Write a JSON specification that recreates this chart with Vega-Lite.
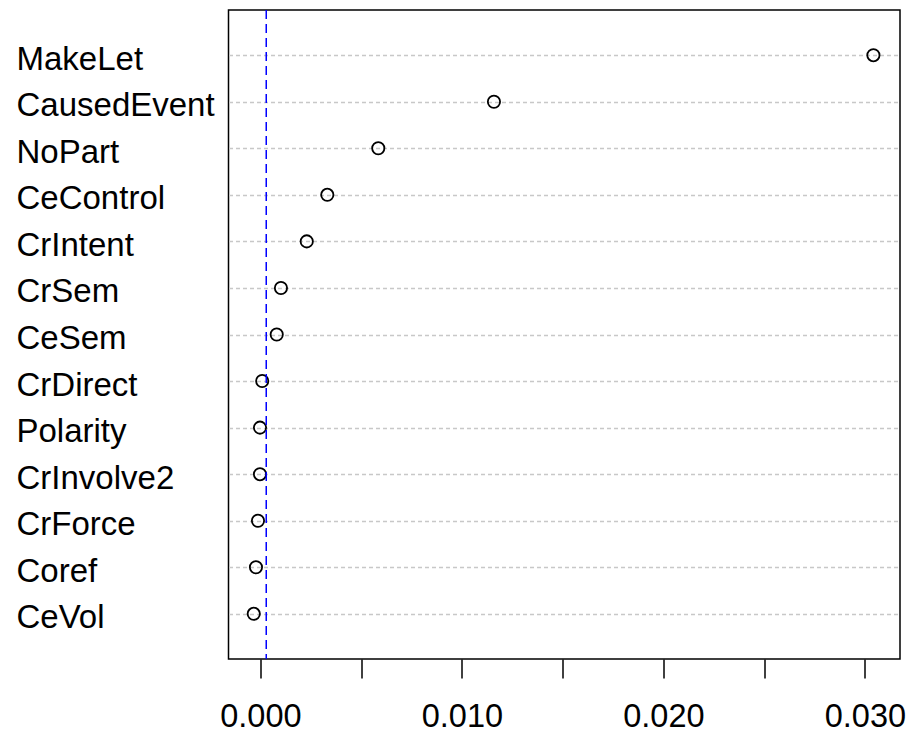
{
  "$schema": "https://vega.github.io/schema/vega-lite/v6.json",
  "autosize": "none",
  "width": 671.5,
  "height": 649,
  "padding": {"left": 228.5, "top": 10, "right": 7, "bottom": 79},
  "background": "white",
  "config": {
    "view": {"stroke": "black", "strokeWidth": 1.5},
    "font": "Liberation Sans"
  },
  "layer": [
    {
      "data": {
        "values": [
          {"variable": "MakeLet", "importance": 0.03042},
          {"variable": "CausedEvent", "importance": 0.01159},
          {"variable": "NoPart", "importance": 0.00585},
          {"variable": "CeControl", "importance": 0.00332},
          {"variable": "CrIntent", "importance": 0.00230},
          {"variable": "CrSem", "importance": 0.00102},
          {"variable": "CeSem", "importance": 0.00081},
          {"variable": "CrDirect", "importance": 0.00009},
          {"variable": "Polarity", "importance": -0.00002},
          {"variable": "CrInvolve2", "importance": -0.00002},
          {"variable": "CrForce", "importance": -0.00012},
          {"variable": "Coref", "importance": -0.00022},
          {"variable": "CeVol", "importance": -0.00033}
        ]
      },
      "mark": {"type": "point", "shape": "circle", "filled": false, "stroke": "black", "strokeWidth": 1.8, "size": 150, "opacity": 1},
      "encoding": {
        "x": {
          "field": "importance",
          "type": "quantitative",
          "scale": {"domain": [-0.001583, 0.03174], "nice": false, "zero": false},
          "axis": {
            "title": null,
            "values": [0, 0.005, 0.01, 0.015, 0.02, 0.025, 0.03],
            "labelExpr": "(round(datum.value * 1000) % 10 == 0) ? format(datum.value, '.3f') : ''",
            "grid": false,
            "domain": false,
            "ticks": true,
            "tickColor": "black",
            "tickWidth": 1.5,
            "tickSize": 19,
            "labelPadding": 22,
            "labelFontSize": 32.5,
            "labelColor": "black",
            "labelFont": "Liberation Sans",
            "labelOverlap": false,
            "labelFlush": false,
            "labelBaseline": "top"
          }
        },
        "y": {
          "field": "variable",
          "type": "nominal",
          "sort": ["MakeLet", "CausedEvent", "NoPart", "CeControl", "CrIntent", "CrSem", "CeSem", "CrDirect", "Polarity", "CrInvolve2", "CrForce", "Coref", "CeVol"],
          "scale": {"type": "point", "padding": 0.97},
          "axis": {
            "title": null,
            "domain": false,
            "ticks": false,
            "tickSize": 0,
            "grid": true,
            "gridColor": "#c8c8c8",
            "gridDash": [4, 3],
            "gridWidth": 1.5,
            "labelAlign": "left",
            "labelBaseline": "middle",
            "labelPadding": 212.5,
            "labelOffset": 4,
            "labelLimit": 0,
            "labelFontSize": 33,
            "labelColor": "black",
            "labelFont": "Liberation Sans"
          }
        }
      }
    },
    {
      "data": {"values": [{"cutoff": 0.00029}]},
      "mark": {"type": "rule", "color": "#0000ff", "strokeWidth": 1.5, "strokeDash": [9, 5]},
      "encoding": {
        "x": {"field": "cutoff", "type": "quantitative"}
      }
    }
  ]
}
